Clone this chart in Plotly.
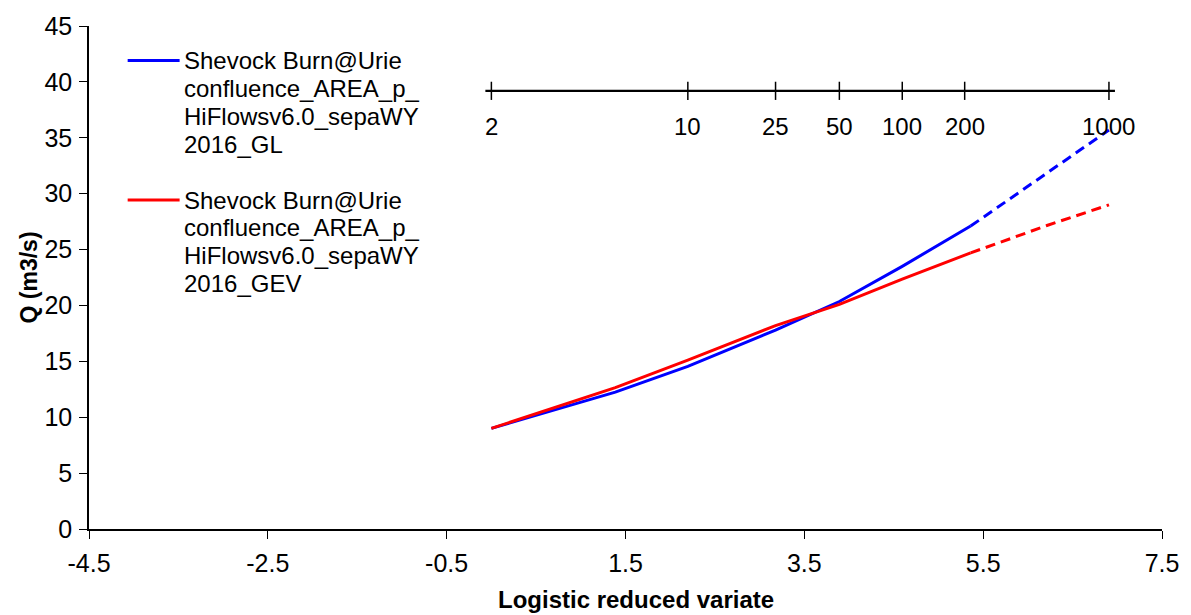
import numpy as np
import plotly.graph_objects as go

# Logistic reduced variate positions and flows (m3/s)
gl_x_solid = [0.0, 1.386, 2.197, 3.178, 3.892, 4.595, 5.36]
gl_q_solid = [9.0, 12.25, 14.55, 17.8, 20.35, 23.5, 27.1]
gl_x_dash = [5.36, 6.05, 6.907]
gl_q_dash = [27.1, 30.95, 35.7]

gev_x_solid = [0.0, 1.386, 2.197, 3.178, 3.892, 4.595, 5.36]
gev_q_solid = [9.0, 12.65, 15.1, 18.2, 20.1, 22.35, 24.7]
gev_x_dash = [5.36, 6.213, 6.907]
gev_q_dash = [24.7, 27.15, 29.0]

# Return-period scale drawn across the top of the plot
return_periods = [2, 10, 25, 50, 100, 200, 1000]
rp_level = 39.2

x_ticks = [-4.5, -2.5, -0.5, 1.5, 3.5, 5.5, 7.5]
y_ticks = [0, 5, 10, 15, 20, 25, 30, 35, 40, 45]

series_names = [
    ["Shevock Burn@Urie", "confluence_AREA_p_", "HiFlowsv6.0_sepaWY", "2016_GL"],
    ["Shevock Burn@Urie", "confluence_AREA_p_", "HiFlowsv6.0_sepaWY", "2016_GEV"],
]
series_colors = ["#0000FF", "#FF0000"]

FONT = "Liberation Sans, Arial, sans-serif"
LW = 3
X_RANGE = [-4.5, 7.5]

fig = go.Figure()

fig.add_trace(go.Scatter(x=gl_x_solid, y=gl_q_solid, mode="lines",
                         line=dict(color=series_colors[0], width=LW),
                         showlegend=False, hoverinfo="skip"))
fig.add_trace(go.Scatter(x=gl_x_dash, y=gl_q_dash, mode="lines",
                         line=dict(color=series_colors[0], width=LW, dash="10px,6px"),
                         showlegend=False, hoverinfo="skip"))
fig.add_trace(go.Scatter(x=gev_x_solid, y=gev_q_solid, mode="lines",
                         line=dict(color=series_colors[1], width=LW),
                         showlegend=False, hoverinfo="skip"))
fig.add_trace(go.Scatter(x=gev_x_dash, y=gev_q_dash, mode="lines",
                         line=dict(color=series_colors[1], width=LW, dash="10px,6px"),
                         showlegend=False, hoverinfo="skip"))

# Return-period axis: line (overshooting the end ticks slightly) with crossing ticks
rp_x = np.log(np.array(return_periods, dtype=float) - 1.0)
plot_l, plot_w, plot_b, plot_h = 89.3, 1074.0, 529.3, 505.0
overshoot = 6.0 * (X_RANGE[1] - X_RANGE[0]) / plot_w
fig.add_trace(go.Scatter(x=[rp_x[0] - overshoot, rp_x[-1] + overshoot],
                         y=[rp_level, rp_level], mode="lines",
                         line=dict(color="black", width=2.4),
                         showlegend=False, hoverinfo="skip"))
fig.add_trace(go.Scatter(x=rp_x, y=[rp_level] * len(rp_x), mode="markers",
                         marker=dict(symbol="line-ns", size=13,
                                     line=dict(color="black", width=1.5)),
                         showlegend=False, hoverinfo="skip"))

annotations = []
for xv, t in zip(rp_x, return_periods):
    annotations.append(dict(x=xv, y=rp_level, xref="x", yref="y", text=str(t),
                            showarrow=False, yshift=-36, yanchor="middle",
                            xanchor="center", font=dict(family=FONT, size=24, color="black")))


def px_to_paper(px, py):
    return (px - plot_l) / plot_w, (plot_b - py) / plot_h


# Legend drawn in pixel-aligned paper coordinates
shapes = []
for lines, color, py in zip(series_names, series_colors, [59, 199]):
    x0, y0 = px_to_paper(128, py)
    x1, _ = px_to_paper(180, py)
    shapes.append(dict(type="line", xref="paper", yref="paper", x0=x0, x1=x1, y0=y0, y1=y0,
                       line=dict(color=color, width=LW)))
    for i, txt in enumerate(lines):
        tx, ty = px_to_paper(182, py + 28 * i)
        annotations.append(dict(x=tx, y=ty, xref="paper", yref="paper", text=txt,
                                showarrow=False, xanchor="left", yanchor="middle",
                                align="left",
                                font=dict(family=FONT, size=24, color="black")))

# Axis titles
tx, ty = px_to_paper(637, 600)
annotations.append(dict(x=tx, y=ty, xref="paper", yref="paper",
                        text="<b>Logistic reduced variate</b>", showarrow=False,
                        xanchor="center", yanchor="middle",
                        font=dict(family=FONT, size=24, color="black")))
tx, ty = px_to_paper(29, 277)
annotations.append(dict(x=tx, y=ty, xref="paper", yref="paper",
                        text="<b>Q (m3/s)</b>", showarrow=False, textangle=-90,
                        xanchor="center", yanchor="middle",
                        font=dict(family=FONT, size=23, color="black")))

fig.update_layout(
    width=1191, height=615,
    margin=dict(l=89, r=28, t=24, b=86),
    paper_bgcolor="white", plot_bgcolor="white",
    font=dict(family=FONT, size=25, color="black"),
    showlegend=False,
    annotations=annotations,
    shapes=shapes,
)
fig.update_xaxes(range=X_RANGE, tickvals=x_ticks, ticktext=[str(v) for v in x_ticks],
                 ticks="outside", ticklen=8, tickcolor="black", showline=True,
                 linecolor="black", linewidth=1.5, showgrid=False, zeroline=False,
                 ticklabelstandoff=3, tickfont=dict(family=FONT, size=25))
fig.update_yaxes(range=[0, 45], tickvals=y_ticks, ticks="outside", ticklen=8,
                 tickcolor="black", showline=True, linecolor="black", linewidth=1.5,
                 showgrid=False, zeroline=False, ticklabelstandoff=2,
                 tickfont=dict(family=FONT, size=25))

fig.write_html("out.html")
